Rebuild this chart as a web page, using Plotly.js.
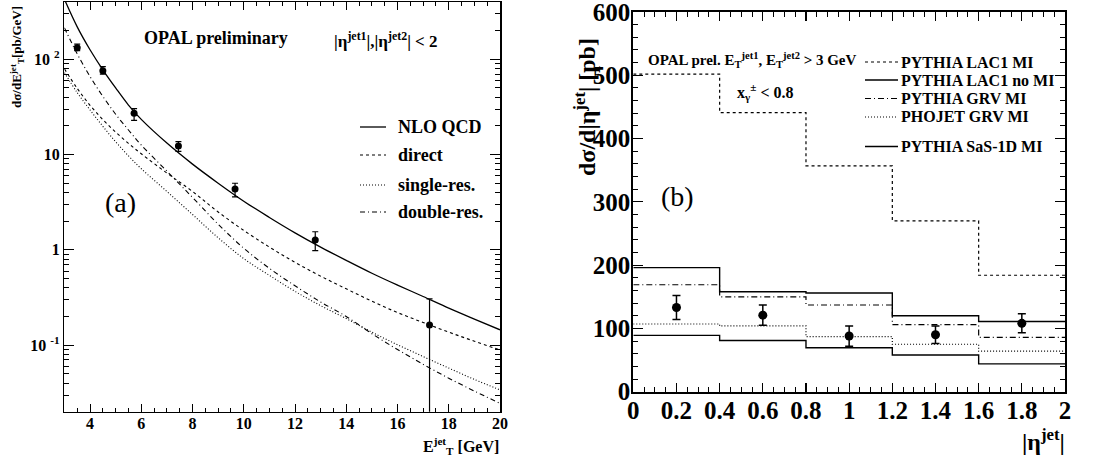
<!DOCTYPE html>
<html>
<head>
<meta charset="utf-8">
<script src="https://cdn.plot.ly/plotly-3.0.1.min.js"></script>
<style>html,body{margin:0;padding:0;background:#fff;}#chart{width:1099px;height:461px;}</style>
</head>
<body>
<div id="chart"></div>
<script>
// ---------- Panel (a): dsigma/dET ----------
const etPoints = [3.5, 4.5, 5.72, 7.45, 9.66, 12.79, 17.25];
const dsigPoints = [132, 76, 27.1, 12.3, 4.35, 1.27, 0.163];
const dsigErrUp = [12, 7.7, 3.3, 1.4, 0.65, 0.28, 0.143];
const dsigErrDown = [9, 6, 4.2, 1.5, 0.75, 0.29, 0.155];

const etCurve = [3, 3.5, 4, 4.5, 5, 5.5, 6, 7, 8, 9, 10, 11, 12, 13, 14, 15, 16, 17, 18, 19, 20];
const nloQCD = [427, 219, 126, 77.6, 50.1, 33.1, 23.4, 13.2, 7.94, 5.01, 3.24, 2.19, 1.51, 1.07, 0.776, 0.569, 0.427, 0.324, 0.245, 0.188, 0.145];
const directComp = [79.4, 49.5, 32.9, 23.3, 17.2, 13.1, 10.2, 6.4, 4.1, 2.5, 1.6, 1.07, 0.74, 0.53, 0.39, 0.29, 0.22, 0.173, 0.137, 0.11, 0.089];
const singleRes = [72.4, 44.7, 29.4, 19.8, 13.6, 9.7, 7.1, 4.1, 2.35, 1.34, 0.81, 0.54, 0.367, 0.26, 0.19, 0.137, 0.101, 0.076, 0.0575, 0.0437, 0.034];
const doubleRes = [214, 114, 65.9, 40.8, 26.5, 18.1, 12.6, 6.7, 3.55, 1.86, 1.04, 0.64, 0.42, 0.284, 0.20, 0.132, 0.090, 0.063, 0.045, 0.033, 0.0245];

const legendA = ["NLO QCD", "direct", "single-res.", "double-res."];
const xTicksA = [4, 6, 8, 10, 12, 14, 16, 18, 20];
const yTickValsA = [0.1, 1, 10, 100];
const yTickTextA = ["10 <sup>-1</sup>", "1", "10", "10 <sup>2</sup>"];

// ---------- Panel (b): dsigma/d|eta| ----------
const etaEdges = [0, 0.4, 0.8, 1.2, 1.6, 2.0];
const etaPoints = [0.2, 0.6, 1.0, 1.4, 1.8];
const dsigEta = [133, 121, 88, 90, 108];
const dsigEtaErr = [19, 16, 16, 14, 15];
const pythiaLac1MI = [502, 441, 357, 270, 184];
const pythiaLac1NoMI = [196, 158, 156, 120, 111];
const pythiaGrvMI = [169, 150, 137, 106, 86];
const phojetGrvMI = [107, 104, 87, 75, 64];
const pythiaSas1dMI = [89, 81, 69.5, 58, 44];

const legendB = ["PYTHIA LAC1 MI", "PYTHIA LAC1 no MI", "PYTHIA GRV MI", "PHOJET GRV MI", "PYTHIA SaS-1D MI"];
const xTicksB = [0, 0.2, 0.4, 0.6, 0.8, 1, 1.2, 1.4, 1.6, 1.8, 2];
const xTickTextB = ["0", "0.2", "0.4", "0.6", "0.8", "1", "1.2", "1.4", "1.6", "1.8", "2"];
const yTicksB = [0, 100, 200, 300, 400, 500, 600];

// ---------- helpers ----------
const W = 1099, H = 461;
const px = x => x / W;
const py = y => 1 - y / H;
const histY = v => v.concat([v[v.length - 1]]);
const SERIF = "Liberation Serif, Times New Roman, serif";

const dashA = ["solid", "3px,3px", "1px,2px", "5px,3px,1px,3px"];
const curvesA = [nloQCD, directComp, singleRes, doubleRes];
const widthA = [1.3, 1.1, 1.1, 1.1];

const dashB = ["3px,3px", "solid", "6px,3px,1px,3px", "1px,2px", "solid"];
const histsB = [pythiaLac1MI, pythiaLac1NoMI, pythiaGrvMI, phojetGrvMI, pythiaSas1dMI];
const widthB = [1.2, 1.4, 1.2, 1.2, 1.4];

const traces = [];
curvesA.forEach((c, i) => {
  traces.push({x: etCurve, y: c, type: "scatter", mode: "lines", xaxis: "x", yaxis: "y",
    line: {color: "black", width: widthA[i], dash: dashA[i], shape: "spline", smoothing: 1},
    showlegend: false, hoverinfo: "skip", cliponaxis: true});
});
traces.push({x: etPoints, y: dsigPoints, type: "scatter", mode: "markers", xaxis: "x", yaxis: "y",
  marker: {color: "black", size: 7, symbol: "circle"},
  error_y: {type: "data", symmetric: false, array: dsigErrUp, arrayminus: dsigErrDown, color: "black", thickness: 1.2, width: 3},
  showlegend: false, cliponaxis: true});

histsB.forEach((h, i) => {
  traces.push({x: etaEdges, y: histY(h), type: "scatter", mode: "lines", xaxis: "x2", yaxis: "y2",
    line: {color: "black", width: widthB[i], dash: dashB[i], shape: "hv"},
    showlegend: false, hoverinfo: "skip"});
});
traces.push({x: etaPoints, y: dsigEta, type: "scatter", mode: "markers", xaxis: "x2", yaxis: "y2",
  marker: {color: "black", size: 9, symbol: "circle"},
  error_y: {type: "data", array: dsigEtaErr, color: "black", thickness: 1.5, width: 4},
  showlegend: false});

// minor ticks for log axis
const minorLog = [];
[0.01, 0.1, 1, 10, 100].forEach(d => { for (let k = 2; k <= 9; k++) minorLog.push(k * d); });

const shapes = [];
const annotations = [];

// legend (a)
const legYA = [127, 155, 185, 212];
legendA.forEach((name, i) => {
  shapes.push({type: "line", xref: "paper", yref: "paper", x0: px(360), x1: px(386), y0: py(legYA[i]), y1: py(legYA[i]),
    line: {color: "black", width: widthA[i], dash: dashA[i]}});
  annotations.push({xref: "paper", yref: "paper", x: px(396), y: py(legYA[i]), xanchor: "left", yanchor: "middle",
    text: "<b>" + name + "</b>", showarrow: false, font: {family: SERIF, size: 18, color: "black"}});
});
// legend (b)
const legYB = [62, 80, 98.5, 117, 146.5];
legendB.forEach((name, i) => {
  shapes.push({type: "line", xref: "paper", yref: "paper", x0: px(865), x1: px(898), y0: py(legYB[i]), y1: py(legYB[i]),
    line: {color: "black", width: widthB[i], dash: dashB[i]}});
  annotations.push({xref: "paper", yref: "paper", x: px(899), y: py(legYB[i]), xanchor: "left", yanchor: "middle",
    text: "<b>" + name + "</b>", showarrow: false, font: {family: SERIF, size: 16, color: "black"}});
});

annotations.push(
  {xref: "paper", yref: "paper", x: px(142), y: py(38), xanchor: "left", yanchor: "middle",
   text: "<b>OPAL preliminary</b>", showarrow: false, font: {family: SERIF, size: 18, color: "black"}},
  {xref: "paper", yref: "paper", x: px(332), y: py(40), xanchor: "left", yanchor: "middle",
   text: "<b>|η<sup>jet1</sup>|,|η<sup>jet2</sup>| < 2</b>", showarrow: false, font: {family: SERIF, size: 17, color: "black"}},
  {xref: "paper", yref: "paper", x: px(120), y: py(203), xanchor: "center", yanchor: "middle",
   text: "(a)", showarrow: false, font: {family: SERIF, size: 28, color: "black"}},
  {xref: "paper", yref: "paper", x: px(17), y: py(57), xanchor: "center", yanchor: "middle", textangle: -90,
   text: "<b>dσ/dE<sup>jet</sup><sub>T</sub>[pb/GeV]</b>", showarrow: false, font: {family: SERIF, size: 13, color: "black"}},
  {xref: "paper", yref: "paper", x: px(501), y: py(446), xanchor: "right", yanchor: "middle",
   text: "<b>E<sup>jet</sup><sub>T</sub> [GeV]</b>", showarrow: false, font: {family: SERIF, size: 16, color: "black"}},
  {xref: "paper", yref: "paper", x: px(646), y: py(60), xanchor: "left", yanchor: "middle",
   text: "<b>OPAL prel. E<sub>T</sub><sup>jet1</sup>, E<sub>T</sub><sup>jet2</sup> > 3 GeV</b>", showarrow: false, font: {family: SERIF, size: 15, color: "black"}},
  {xref: "paper", yref: "paper", x: px(735), y: py(92), xanchor: "left", yanchor: "middle",
   text: "<b>x<sub>γ</sub><sup>±</sup> < 0.8</b>", showarrow: false, font: {family: SERIF, size: 16, color: "black"}},
  {xref: "paper", yref: "paper", x: px(677), y: py(196), xanchor: "center", yanchor: "middle",
   text: "(b)", showarrow: false, font: {family: SERIF, size: 28, color: "black"}},
  {xref: "paper", yref: "paper", x: px(585), y: py(107), xanchor: "center", yanchor: "middle", textangle: -90,
   text: "<b>dσ/d|η<sup>jet</sup>| [pb]</b>", showarrow: false, font: {family: SERIF, size: 24, color: "black"}},
  {xref: "paper", yref: "paper", x: px(1067), y: py(440), xanchor: "right", yanchor: "middle",
   text: "<b>|η<sup>jet</sup>|</b>", showarrow: false, font: {family: SERIF, size: 24, color: "black"}}
);

const layout = {
  width: W, height: H,
  margin: {l: 0, r: 0, t: 0, b: 0},
  paper_bgcolor: "white", plot_bgcolor: "white",
  font: {family: SERIF, color: "black"},
  showlegend: false,
  xaxis: {domain: [px(64.4), px(500)], range: [3, 20], anchor: "y",
    tickmode: "array", tickvals: xTicksA, ticks: "inside", ticklen: 8, tickwidth: 1, tickcolor: "black",
    minor: {tickmode: "linear", tick0: 3, dtick: 0.5, ticks: "inside", ticklen: 4, tickwidth: 1, tickcolor: "black"},
    showline: true, linecolor: "black", linewidth: 1.5, mirror: "ticks", showgrid: false, zeroline: false,
    ticklabelstandoff: -3, ticklabeloverflow: "allow",
    tickfont: {family: SERIF, size: 16, color: "black", weight: "bold"}},
  yaxis: {domain: [1 - 411.7 / H, 1 - 2 / H], type: "log", range: [-1.698, 2.601], anchor: "x",
    tickmode: "array", tickvals: yTickValsA, ticktext: yTickTextA, ticks: "inside", ticklen: 10, tickwidth: 1, tickcolor: "black",
    minor: {tickmode: "array", tickvals: minorLog, ticks: "inside", ticklen: 5, tickwidth: 1, tickcolor: "black"},
    showline: true, linecolor: "black", linewidth: 1.5, mirror: "ticks", showgrid: false, zeroline: false,
    ticklabeloverflow: "allow",
    tickfont: {family: SERIF, size: 16, color: "black", weight: "bold"}},
  xaxis2: {domain: [px(633.3), px(1065)], range: [0, 2], anchor: "y2",
    tickmode: "array", tickvals: xTicksB, ticktext: xTickTextB, ticks: "inside", ticklen: 9, tickwidth: 1.2, tickcolor: "black",
    minor: {tickmode: "linear", tick0: 0, dtick: 0.05, ticks: "inside", ticklen: 5, tickwidth: 1, tickcolor: "black"},
    showline: true, linecolor: "black", linewidth: 2, mirror: "ticks", showgrid: false, zeroline: false,
    ticklabelstandoff: -5, ticklabeloverflow: "allow",
    tickfont: {family: SERIF, size: 25, color: "black", weight: "bold"}},
  yaxis2: {domain: [1 - 391.7 / H, 1 - 11.7 / H], range: [0, 600.5], anchor: "x2",
    tickmode: "array", tickvals: yTicksB, ticks: "inside", ticklen: 10, tickwidth: 1.2, tickcolor: "black",
    minor: {tickmode: "linear", tick0: 0, dtick: 20, ticks: "inside", ticklen: 5, tickwidth: 1, tickcolor: "black"},
    showline: true, linecolor: "black", linewidth: 2, mirror: "ticks", showgrid: false, zeroline: false,
    ticklabelstandoff: -4, ticklabeloverflow: "allow",
    tickfont: {family: SERIF, size: 25, color: "black", weight: "bold"}},
  shapes: shapes,
  annotations: annotations
};

Plotly.newPlot("chart", traces, layout, {staticPlot: true, displayModeBar: false});
</script>
</body>
</html>
